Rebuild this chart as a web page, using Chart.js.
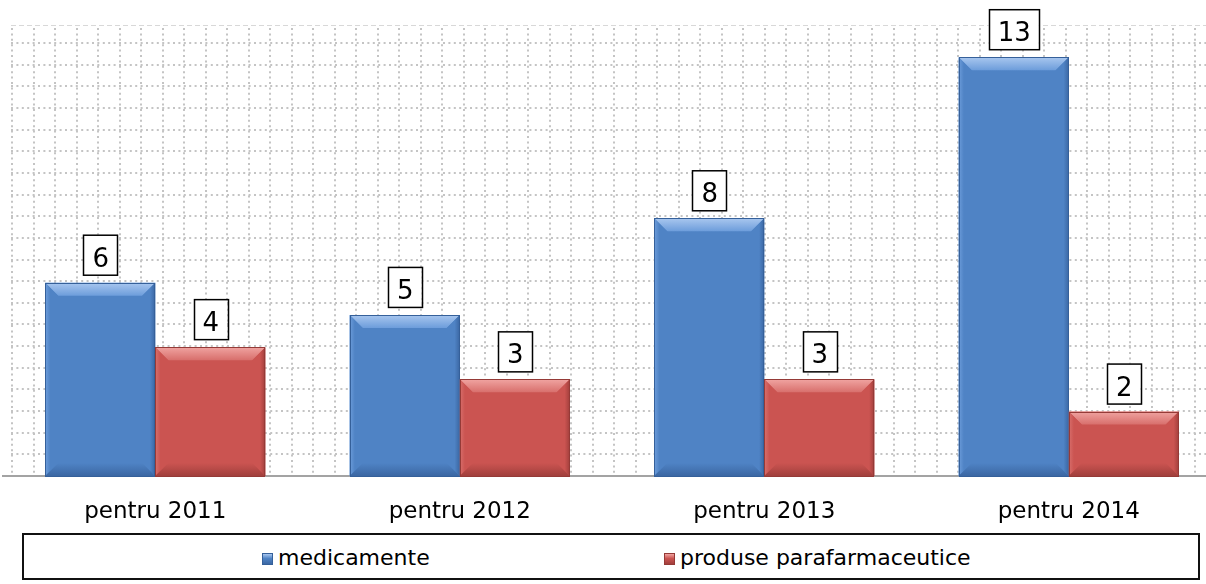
<!DOCTYPE html>
<html lang="ro">
<head>
  <meta charset="UTF-8">
  <title>medicamente si produse parafarmaceutice</title>
  <script src="https://cdn.jsdelivr.net/npm/chart.js"></script>
  <style>
    body { margin: 0; width: 1206px; height: 584px; overflow: hidden; background: #fff; position: relative; font-family: 'DejaVu Sans', Verdana, sans-serif; }
    #chartBox { position: absolute; left: 0; top: 0; }
    #legend { position: absolute; left: 22px; top: 533px; width: 1174px; height: 43px; border: 2px solid #111; }
    #legend .item { position: absolute; top: 10px; font-size: 22px; line-height: 26px; color: #000; white-space: nowrap; }
    #legend .sw { display: inline-block; width: 9px; height: 10px; margin-right: 5px; vertical-align: baseline; }
  </style>
</head>
<body>
  <canvas id="chartBox" width="1222" height="530"></canvas>
  <div id="legend"></div>

  <script>
    const categories = ['pentru 2011', 'pentru 2012', 'pentru 2013', 'pentru 2014'];
    const seriesNames = ['medicamente', 'produse parafarmaceutice'];
    const medicamente = [6, 5, 8, 13];
    const parafarmaceutice = [4, 3, 3, 2];
    const yMax = 14;

    // colours: face, light (top bevel), dark (right/bottom bevel), outline
    const looks = [
      { face: '#4f83c5', light: '#a9c7ef', mid: '#6d9ddb', dark: '#3b67a3', line: '#35609a' },
      { face: '#cb5451', light: '#f0a4a1', mid: '#d86f6c', dark: '#a13f3c', line: '#953a37' }
    ];
    const legendLeft = [238, 640];

    // legend as html
    const legendEl = document.getElementById('legend');
    seriesNames.forEach((name, i) => {
      const c = looks[i];
      const item = document.createElement('div');
      item.className = 'item';
      item.style.left = legendLeft[i] + 'px';
      item.innerHTML = '<span class="sw" style="border:1px solid ' + c.line +
        ';background:linear-gradient(' + c.light + ',' + c.face + ' 45%,' + c.dark + ')"></span>' + name;
      legendEl.appendChild(item);
    });

    const dottedGrid = {
      id: 'dottedGrid',
      beforeDatasetsDraw(chart) {
        const ctx = chart.ctx, a = chart.chartArea;
        ctx.save();
        ctx.strokeStyle = '#c4c4c4';
        ctx.lineWidth = 2;
        ctx.setLineDash([2, 3.4]);
        for (let x = a.left + 9; x < a.right; x += 21.5) {
          ctx.beginPath();
          ctx.moveTo(Math.round(x), a.top + 3);
          ctx.lineTo(Math.round(x), a.bottom);
          ctx.stroke();
        }
        for (let y = a.bottom - 21.65; y > a.top + 4; y -= 21.65) {
          ctx.beginPath();
          ctx.moveTo(a.left + 8, Math.round(y));
          ctx.lineTo(a.right, Math.round(y));
          ctx.stroke();
        }
        ctx.strokeStyle = '#d8d8d8';
        ctx.lineWidth = 1;
        ctx.setLineDash([5, 3]);
        ctx.beginPath();
        ctx.moveTo(a.left + 8, a.top + 0.5);
        ctx.lineTo(a.right, a.top + 0.5);
        ctx.stroke();
        ctx.restore();
      }
    };

    const bevelAndLabels = {
      id: 'bevelAndLabels',
      afterDatasetsDraw(chart) {
        const ctx = chart.ctx;
        ctx.save();
        chart.data.datasets.forEach((ds, di) => {
          const c = looks[di];
          chart.getDatasetMeta(di).data.forEach((bar, i) => {
            const p = bar.getProps(['x', 'y', 'base', 'width'], true);
            const l = p.x - p.width / 2, r = p.x + p.width / 2, t = p.y, b = p.base;
            const bv = Math.min(13, (b - t) / 2);

            // top bevel
            let g = ctx.createLinearGradient(0, t, 0, t + bv);
            g.addColorStop(0, c.light);
            g.addColorStop(1, c.mid);
            ctx.fillStyle = g;
            ctx.beginPath();
            ctx.moveTo(l, t); ctx.lineTo(r, t); ctx.lineTo(r - bv, t + bv); ctx.lineTo(l + bv, t + bv);
            ctx.closePath(); ctx.fill();

            // left bevel
            g = ctx.createLinearGradient(l, 0, l + bv, 0);
            g.addColorStop(0, c.mid);
            g.addColorStop(0.4, c.face);
            g.addColorStop(1, c.face);
            ctx.fillStyle = g;
            ctx.beginPath();
            ctx.moveTo(l, t); ctx.lineTo(l + bv, t + bv); ctx.lineTo(l + bv, b - bv); ctx.lineTo(l, b);
            ctx.closePath(); ctx.fill();

            // right bevel
            g = ctx.createLinearGradient(r - bv, 0, r, 0);
            g.addColorStop(0, c.face);
            g.addColorStop(0.6, c.face);
            g.addColorStop(1, c.dark);
            ctx.fillStyle = g;
            ctx.beginPath();
            ctx.moveTo(r, t); ctx.lineTo(r - bv, t + bv); ctx.lineTo(r - bv, b - bv); ctx.lineTo(r, b);
            ctx.closePath(); ctx.fill();

            // bottom bevel
            g = ctx.createLinearGradient(0, b - bv, 0, b);
            g.addColorStop(0, c.face);
            g.addColorStop(1, c.dark);
            ctx.fillStyle = g;
            ctx.beginPath();
            ctx.moveTo(l, b); ctx.lineTo(l + bv, b - bv); ctx.lineTo(r - bv, b - bv); ctx.lineTo(r, b);
            ctx.closePath(); ctx.fill();

            ctx.strokeStyle = c.line;
            ctx.lineWidth = 1;
            ctx.strokeRect(Math.round(l) + 0.5, Math.round(t) + 0.5, Math.round(r - l) - 1, Math.round(b - t));

            // value label in a box
            const txt = String(ds.data[i]);
            ctx.font = '26px "DejaVu Sans"';
            const w = ctx.measureText(txt).width + 17;
            const boxB = t - 8, boxT = boxB - 40;
            ctx.fillStyle = '#fff';
            ctx.fillRect(p.x - w / 2, boxT, w, 40);
            ctx.strokeStyle = '#000';
            ctx.lineWidth = 1.5;
            ctx.strokeRect(Math.round(p.x - w / 2) + 0.5, boxT + 0.5, Math.round(w), 40);
            ctx.fillStyle = '#000';
            ctx.textAlign = 'center';
            ctx.textBaseline = 'alphabetic';
            ctx.fillText(txt, p.x + 0.5, boxB - 8);
          });
        });
        ctx.restore();
      }
    };

    new Chart(document.getElementById('chartBox'), {
      type: 'bar',
      data: {
        labels: categories,
        datasets: [
          { label: seriesNames[0], data: medicamente, backgroundColor: looks[0].face, borderWidth: 0 },
          { label: seriesNames[1], data: parafarmaceutice, backgroundColor: looks[1].face, borderWidth: 0 }
        ]
      },
      options: {
        responsive: false,
        animation: false,
        devicePixelRatio: 1,
        layout: { padding: { top: 25, left: 3, right: 1, bottom: 0 } },
        datasets: { bar: { barPercentage: 1, categoryPercentage: 0.723 } },
        scales: {
          x: {
            grid: { display: false, drawTicks: false },
            border: { color: '#a3a3a3', width: 2 },
            ticks: { color: '#000', padding: 22, font: { family: 'DejaVu Sans', size: 23 } },
            afterFit(scale) { scale.height = 54; }
          },
          y: { display: false, min: 0, max: yMax }
        },
        plugins: { legend: { display: false }, tooltip: { enabled: false } }
      },
      plugins: [dottedGrid, bevelAndLabels]
    });
  </script>
</body>
</html>
